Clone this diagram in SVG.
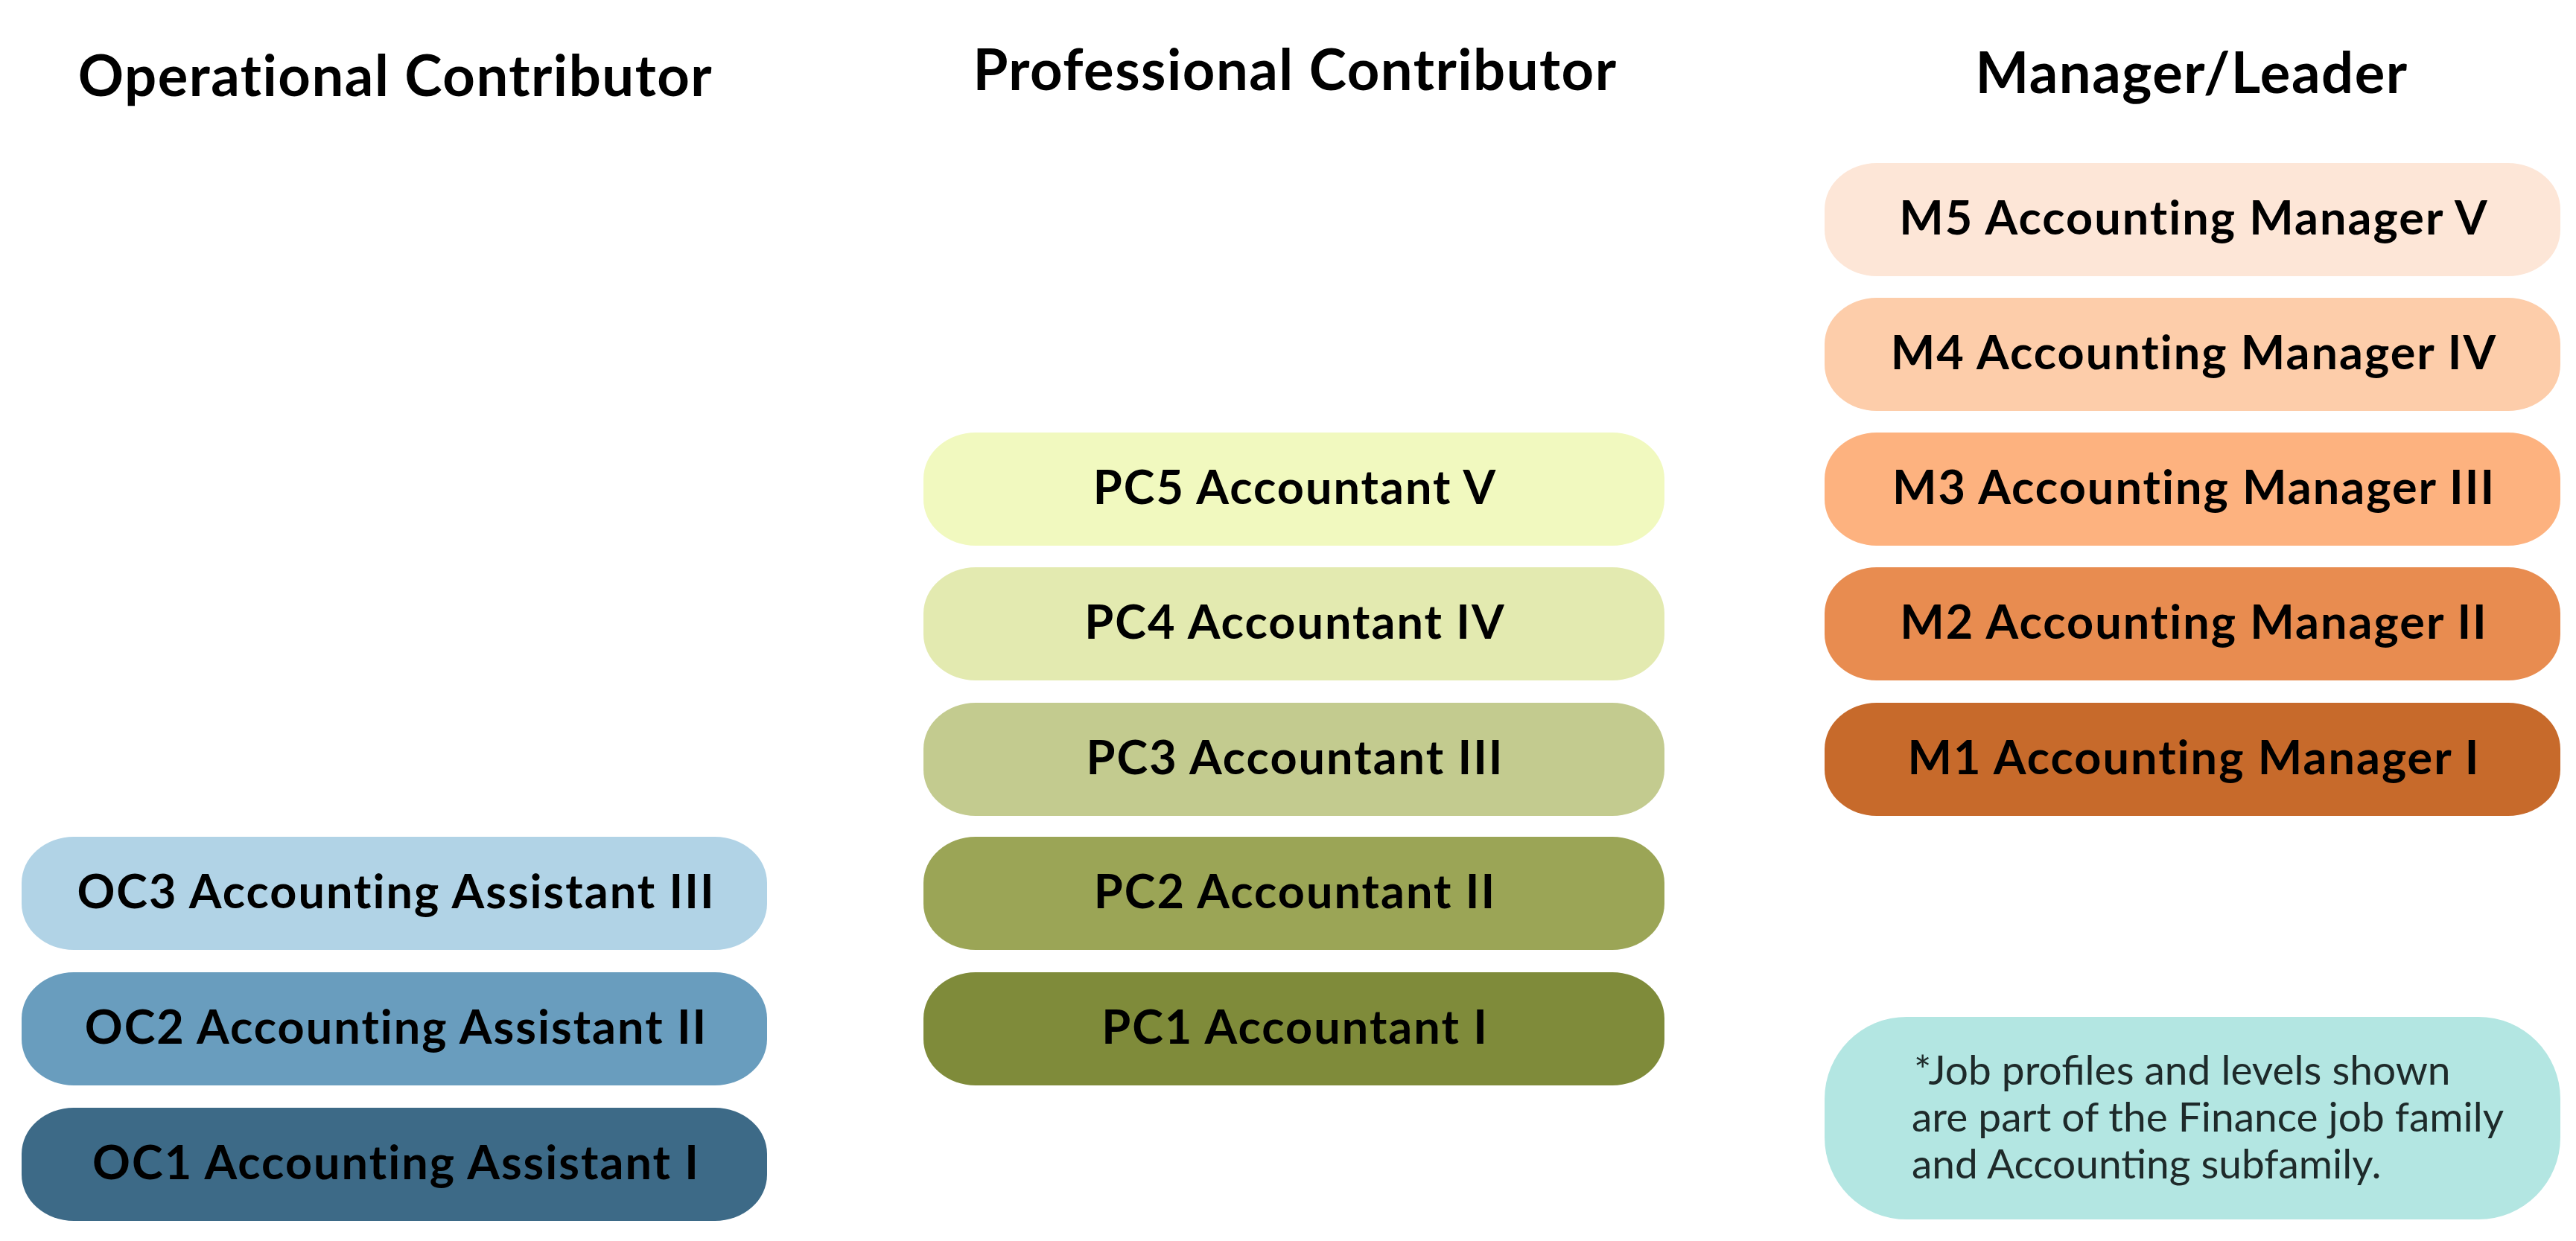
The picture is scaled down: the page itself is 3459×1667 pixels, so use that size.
<svg xmlns="http://www.w3.org/2000/svg" width="3459" height="1667" viewBox="0 0 3459 1667">
<style>
.hdr{font-family:Lato,"Liberation Sans",sans-serif;font-weight:700;font-size:76px;letter-spacing:1.5px;fill:#000;text-anchor:middle}
.lbl{font-family:Lato,"Liberation Sans",sans-serif;font-weight:700;font-size:63px;letter-spacing:2px;fill:#000;text-anchor:middle}
.note{font-family:Lato,"Liberation Sans",sans-serif;font-weight:400;font-size:55px;fill:#1e2a2a}
</style>
<rect width="3459" height="1667" fill="#fff"/>
<g id="headers">
<text class="hdr" x="531" y="129">Operational Contributor</text>
<text class="hdr" x="1739" y="121">Professional Contributor</text>
<text class="hdr" x="2943" y="125">Manager/Leader</text>
</g>
<g id="connectors"></g>
<g id="oc3"><rect x="29" y="1124" width="1001" height="152" rx="70" ry="62" fill="#b1d3e6"/><text class="lbl" x="532" y="1220">OC3 Accounting Assistant III</text></g>
<g id="oc2"><rect x="29" y="1306" width="1001" height="152" rx="70" ry="62" fill="#699dbe"/><text class="lbl" x="532" y="1402">OC2 Accounting Assistant II</text></g>
<g id="oc1"><rect x="29" y="1488" width="1001" height="152" rx="70" ry="62" fill="#3d6a87"/><text class="lbl" x="532" y="1584">OC1 Accounting Assistant I</text></g>
<g id="pc5"><rect x="1240" y="581" width="995" height="152" rx="70" ry="62" fill="#f1f9bf"/><text class="lbl" x="1739" y="677">PC5 Accountant V</text></g>
<g id="pc4"><rect x="1240" y="762" width="995" height="152" rx="70" ry="62" fill="#e3eab0"/><text class="lbl" x="1739" y="858">PC4 Accountant IV</text></g>
<g id="pc3"><rect x="1240" y="944" width="995" height="152" rx="70" ry="62" fill="#c3cb8f"/><text class="lbl" x="1739" y="1040">PC3 Accountant III</text></g>
<g id="pc2"><rect x="1240" y="1124" width="995" height="152" rx="70" ry="62" fill="#9ba556"/><text class="lbl" x="1739" y="1220">PC2 Accountant II</text></g>
<g id="pc1"><rect x="1240" y="1306" width="995" height="152" rx="70" ry="62" fill="#7f8b3a"/><text class="lbl" x="1739" y="1402">PC1 Accountant I</text></g>
<g id="m5"><rect x="2450" y="219" width="988" height="152" rx="70" ry="62" fill="#fde6d7"/><text class="lbl" x="2946" y="315">M5 Accounting Manager V</text></g>
<g id="m4"><rect x="2450" y="400" width="988" height="152" rx="70" ry="62" fill="#fdcdaa"/><text class="lbl" x="2946" y="496">M4 Accounting Manager IV</text></g>
<g id="m3"><rect x="2450" y="581" width="988" height="152" rx="70" ry="62" fill="#fdb27f"/><text class="lbl" x="2946" y="677">M3 Accounting Manager III</text></g>
<g id="m2"><rect x="2450" y="762" width="988" height="152" rx="70" ry="62" fill="#e88c50"/><text class="lbl" x="2946" y="858">M2 Accounting Manager II</text></g>
<g id="m1"><rect x="2450" y="944" width="988" height="152" rx="70" ry="62" fill="#c76a2b"/><text class="lbl" x="2946" y="1040">M1 Accounting Manager I</text></g>
<g id="note"><rect x="2450" y="1366" width="988" height="272" rx="110" ry="110" fill="#b3e6e2"/>
<text class="note"><tspan x="2570" y="1457">*Job profiles and levels shown</tspan><tspan x="2567" y="1520">are part of the Finance job family</tspan><tspan x="2567" y="1583">and Accounting subfamily.</tspan></text></g>
</svg>
